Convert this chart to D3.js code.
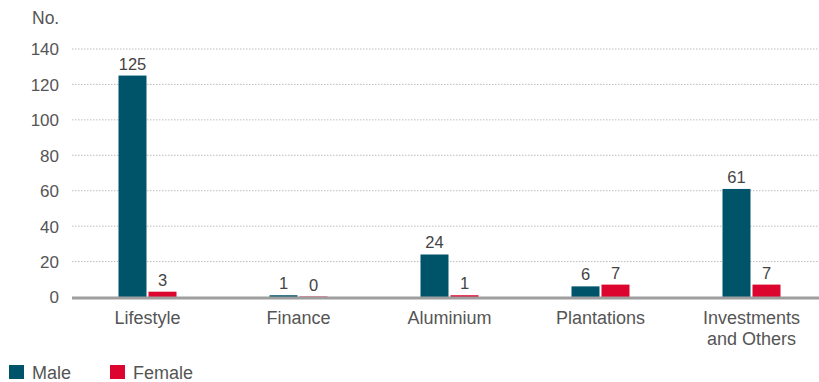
<!DOCTYPE html>
<html>
<head>
<meta charset="utf-8">
<script src="https://cdn.jsdelivr.net/npm/d3@7"></script>
<style>
  html, body { margin: 0; padding: 0; background: #fff; }
  svg { display: block; font-family: "Liberation Sans", Arial, sans-serif; }
</style>
</head>
<body>
<svg id="chart" width="819" height="382"></svg>
<script>
// Headcount by business segment and gender
const categories = [["Lifestyle"], ["Finance"], ["Aluminium"], ["Plantations"], ["Investments", "and Others"]];
const maleValues = [125, 1, 24, 6, 61];
const femaleValues = [3, 0, 1, 7, 7];
const yTicks = [0, 20, 40, 60, 80, 100, 120, 140];
const seriesNames = ["Male", "Female"];
const seriesColors = ["#00546a", "#dc052f"];

const svg = d3.select("#chart");
const plotLeft = 72, plotRight = 827, plotTop = 49, plotBottom = 297;
const textColor = "#555";

const x = d3.scaleBand()
  .domain(d3.range(categories.length))
  .range([plotLeft, plotRight]);

const y = d3.scaleLinear().domain([0, 140]).range([plotBottom, plotTop]);

// Horizontal dotted gridlines
svg.append("g").selectAll("line")
  .data(yTicks.filter(t => t > 0))
  .join("line")
  .attr("x1", plotLeft).attr("x2", 819)
  .attr("y1", d => y(d)).attr("y2", d => y(d))
  .attr("stroke", "#bdbdbd")
  .attr("stroke-width", 1)
  .attr("stroke-dasharray", "1.5,1.5");

// Y axis labels
const yAxis = d3.axisLeft(y).tickValues(yTicks).tickSize(0).tickPadding(0);
const yg = svg.append("g").attr("transform", `translate(59,0)`).call(yAxis);
yg.select(".domain").remove();
yg.selectAll("text")
  .attr("fill", textColor)
  .attr("font-size", 17)
  .attr("font-family", "Liberation Sans, Arial, sans-serif")
  .attr("dy", "0.35em");

svg.append("text")
  .attr("x", 32).attr("y", 24)
  .attr("fill", textColor).attr("font-size", 17.5)
  .text("No.");

// Bars
const barW = 28;
const series = [maleValues, femaleValues];
const offsets = [-29, 1];
series.forEach((vals, si) => {
  const g = svg.append("g");
  g.selectAll("rect")
    .data(vals)
    .join("rect")
    .attr("x", (d, i) => x(i) + x.bandwidth() / 2 + offsets[si])
    .attr("width", barW)
    .attr("y", d => Math.min(y(d), plotBottom - 1))
    .attr("height", d => Math.max(plotBottom - y(d), 1))
    .attr("fill", seriesColors[si])
    .attr("opacity", d => d === 0 ? 0.5 : 1);
  g.selectAll("text")
    .data(vals)
    .join("text")
    .attr("x", (d, i) => x(i) + x.bandwidth() / 2 + offsets[si] + barW / 2)
    .attr("y", d => y(d) - 6)
    .attr("text-anchor", "middle")
    .attr("fill", "#444")
    .attr("font-size", 16.5)
    .text(d => d);
});

// Baseline
svg.append("line")
  .attr("x1", plotLeft).attr("x2", 819)
  .attr("y1", plotBottom + 1).attr("y2", plotBottom + 1)
  .attr("stroke", "#9e9e9e")
  .attr("stroke-width", 3);

// Category labels
const xl = svg.append("g");
categories.forEach((lines, i) => {
  const t = xl.append("text")
    .attr("x", x(i) + x.bandwidth() / 2)
    .attr("y", 324)
    .attr("text-anchor", "middle")
    .attr("fill", textColor)
    .attr("font-size", 18);
  lines.forEach((ln, k) => {
    t.append("tspan")
      .attr("x", x(i) + x.bandwidth() / 2)
      .attr("dy", k === 0 ? 0 : 21)
      .text(ln);
  });
});

// Legend
const legendX = [9, 110];
seriesNames.forEach((name, i) => {
  svg.append("rect")
    .attr("x", legendX[i]).attr("y", 365)
    .attr("width", 15).attr("height", 14)
    .attr("fill", seriesColors[i]);
  svg.append("text")
    .attr("x", legendX[i] + 23).attr("y", 379)
    .attr("fill", textColor).attr("font-size", 18)
    .text(name);
});
</script>
</body>
</html>
